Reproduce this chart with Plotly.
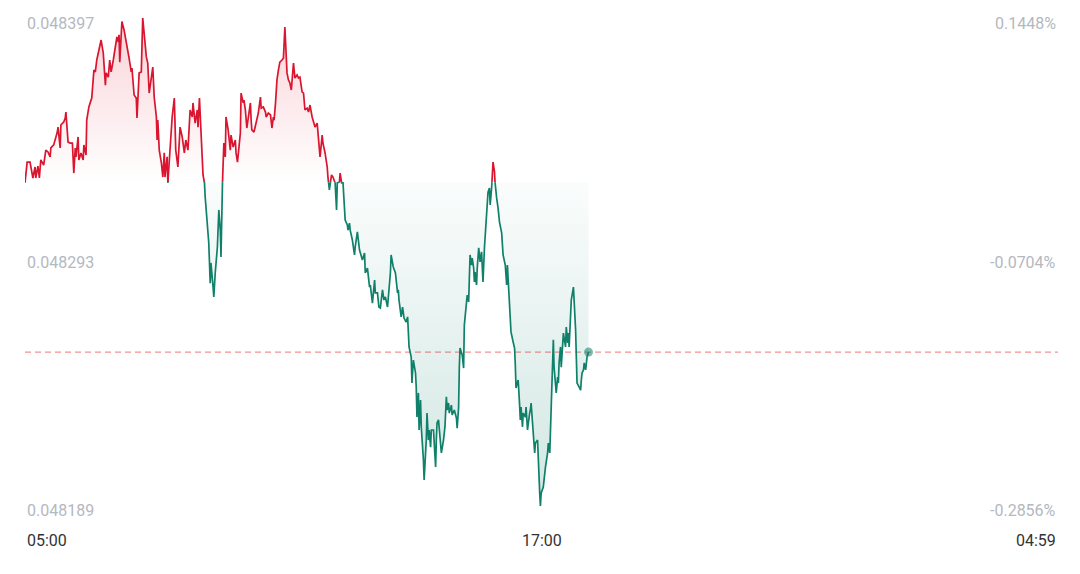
import plotly.graph_objects as go
from datetime import datetime, timedelta

prev_close = 0.048327

# minutes after 05:00 and traded prices
minutes = [0, 3, 7, 11, 14, 15, 18, 20, 22, 26, 29, 32, 35, 36, 40, 42, 45, 46, 49, 50,
           54, 56, 57, 60, 63, 66, 68, 70, 71, 74, 75, 78, 81, 82, 85, 86, 89, 92, 93, 96,
           98, 100, 102, 105, 106, 109, 112, 113, 116, 118, 120, 123, 125, 128, 130, 131, 132, 135, 138, 141,
           142, 145, 148, 149, 152, 155, 156, 159, 162, 164, 169, 171, 173, 176, 178, 180, 183, 184, 185, 187,
           190, 192, 194, 195, 198, 199, 201, 205, 208, 210, 213, 216, 219, 222, 224, 227, 230, 233, 234, 237,
           240, 241, 243, 245, 248, 250, 251, 254, 255, 256, 258, 259, 262, 263, 265, 268, 270, 272, 273, 275,
           276, 277, 279, 280, 283, 286, 287, 290, 293, 294, 296, 298, 300, 301, 304, 305, 307, 309, 312, 314,
           315, 316, 319, 322, 325, 328, 329, 332, 335, 336, 339, 342, 344, 346, 347, 349, 351, 353, 355, 358,
           360, 362, 364, 365, 367, 369, 371, 372, 374, 376, 379, 381, 383, 386, 388, 390, 393, 395, 397, 400,
           401, 404, 407, 408, 411, 414, 415, 418, 421, 422, 424, 427, 429, 432, 434, 435, 438, 439, 441, 443,
           445, 446, 449, 450, 452, 453, 456, 459, 460, 463, 466, 467, 470, 473, 474, 477, 480, 481, 484, 487,
           488, 491, 493, 495, 498, 500, 502, 505, 507, 509, 510, 513, 516, 519, 520, 521, 524, 526, 528, 531,
           533, 534, 535, 538, 539, 541, 544, 545, 546, 548, 549, 551, 552, 555, 556, 559, 560, 562, 563, 565,
           566, 569, 572, 573, 574, 576, 579, 580, 583, 585, 587, 588, 590, 591, 594, 595, 598, 601, 602, 604,
           605, 606, 609, 611, 612, 613, 615, 616, 618, 619, 620, 622, 623, 625, 626, 627, 629, 630, 632, 633,
           634, 636, 638, 640, 643, 644, 645, 647, 648, 650, 651, 652, 654, 655, 657, 659, 661, 664, 665, 666,
           669, 671, 672, 673, 675, 676, 677, 680, 682, 683, 684, 686, 687, 689, 690, 691, 693, 694, 697, 698,
           700, 703, 704, 705, 707, 708, 710, 711, 714, 715, 717, 718, 719, 722, 724, 725, 728, 729, 731, 732,
           733, 735, 736, 737, 739, 740, 742, 743, 744, 746, 747, 749, 750, 753, 754, 756, 757, 758, 760, 761,
           764, 765, 767, 768, 769, 772, 774, 775, 776, 778, 779, 781, 782, 783, 785]

prices = [0.0483267, 0.0483356, 0.0483356, 0.0483288, 0.0483335, 0.0483288, 0.0483339, 0.0483288, 0.0483365, 0.0483343,
          0.0483407, 0.0483399, 0.0483378, 0.0483416, 0.0483429, 0.0483450, 0.0483484, 0.0483505, 0.0483416, 0.0483514,
          0.0483527, 0.0483544, 0.0483569, 0.0483441, 0.0483437, 0.0483437, 0.0483309, 0.0483416, 0.0483378, 0.0483463,
          0.0483365, 0.0483395, 0.0483365, 0.0483429, 0.0483386, 0.0483535, 0.0483591, 0.0483620, 0.0483629, 0.0483748,
          0.0483740, 0.0483791, 0.0483821, 0.0483863, 0.0483876, 0.0483821, 0.0483684, 0.0483736, 0.0483718, 0.0483791,
          0.0483740, 0.0483791, 0.0483825, 0.0483889, 0.0483868, 0.0483898, 0.0483782, 0.0483955, 0.0483919, 0.0483868,
          0.0483863, 0.0483799, 0.0483740, 0.0483757, 0.0483642, 0.0483629, 0.0483544, 0.0483736, 0.0483740, 0.0483970,
          0.0483804, 0.0483778, 0.0483650, 0.0483706, 0.0483761, 0.0483633, 0.0483548, 0.0483450, 0.0483535, 0.0483407,
          0.0483352, 0.0483292, 0.0483395, 0.0483292, 0.0483378, 0.0483267, 0.0483352, 0.0483548, 0.0483629, 0.0483407,
          0.0483335, 0.0483505, 0.0483463, 0.0483395, 0.0483450, 0.0483407, 0.0483578, 0.0483548, 0.0483608, 0.0483522,
          0.0483578, 0.0483505, 0.0483629, 0.0483505, 0.0483301, 0.0483267, 0.0483207, 0.0483096, 0.0483054, 0.0483011,
          0.0482840, 0.0482926, 0.0482823, 0.0482781, 0.0482883, 0.0482994, 0.0483152, 0.0483066, 0.0482951, 0.0483250,
          0.0483420, 0.0483437, 0.0483378, 0.0483548, 0.0483493, 0.0483407, 0.0483471, 0.0483420, 0.0483450, 0.0483395,
          0.0483356, 0.0483416, 0.0483480, 0.0483650, 0.0483608, 0.0483620, 0.0483578, 0.0483501, 0.0483565, 0.0483608,
          0.0483535, 0.0483493, 0.0483484, 0.0483522, 0.0483565, 0.0483633, 0.0483586, 0.0483591, 0.0483569, 0.0483548,
          0.0483565, 0.0483557, 0.0483501, 0.0483548, 0.0483535, 0.0483608, 0.0483706, 0.0483748, 0.0483782, 0.0483791,
          0.0483799, 0.0483932, 0.0483778, 0.0483736, 0.0483706, 0.0483693, 0.0483663, 0.0483706, 0.0483778, 0.0483714,
          0.0483727, 0.0483714, 0.0483718, 0.0483655, 0.0483650, 0.0483578, 0.0483586, 0.0483569, 0.0483599, 0.0483548,
          0.0483535, 0.0483505, 0.0483522, 0.0483484, 0.0483378, 0.0483471, 0.0483437, 0.0483395, 0.0483335, 0.0483292,
          0.0483237, 0.0483301, 0.0483292, 0.0483267, 0.0483152, 0.0483267, 0.0483271, 0.0483309, 0.0483267, 0.0483267,
          0.0483181, 0.0483109, 0.0483088, 0.0483066, 0.0483096, 0.0483066, 0.0483024, 0.0482960, 0.0482994, 0.0483058,
          0.0482981, 0.0482968, 0.0482939, 0.0482968, 0.0482883, 0.0482904, 0.0482823, 0.0482832, 0.0482755, 0.0482853,
          0.0482798, 0.0482798, 0.0482738, 0.0482734, 0.0482811, 0.0482768, 0.0482781, 0.0482738, 0.0482811, 0.0482883,
          0.0482960, 0.0482909, 0.0482883, 0.0482798, 0.0482811, 0.0482768, 0.0482696, 0.0482738, 0.0482691, 0.0482674,
          0.0482696, 0.0482610, 0.0482568, 0.0482525, 0.0482414, 0.0482512, 0.0482457, 0.0482397, 0.0482269, 0.0482372,
          0.0482214, 0.0482342, 0.0482227, 0.0482086, 0.0482001, 0.0482171, 0.0482286, 0.0482171, 0.0482214, 0.0482141,
          0.0482214, 0.0482214, 0.0482056, 0.0482171, 0.0482244, 0.0482257, 0.0482171, 0.0482116, 0.0482171, 0.0482227,
          0.0482355, 0.0482299, 0.0482329, 0.0482286, 0.0482320, 0.0482278, 0.0482299, 0.0482265, 0.0482222, 0.0482308,
          0.0482478, 0.0482563, 0.0482534, 0.0482478, 0.0482661, 0.0482691, 0.0482747, 0.0482789, 0.0482760, 0.0482845,
          0.0482960, 0.0482917, 0.0482947, 0.0482904, 0.0482845, 0.0482887, 0.0482832, 0.0482904, 0.0482990, 0.0482960,
          0.0482930, 0.0482973, 0.0482845, 0.0482990, 0.0483143, 0.0483186, 0.0483228, 0.0483245, 0.0483173, 0.0483245,
          0.0483301, 0.0483356, 0.0483314, 0.0483258, 0.0483203, 0.0483160, 0.0483100, 0.0483054, 0.0482973, 0.0482960,
          0.0482917, 0.0482832, 0.0482917, 0.0482862, 0.0482760, 0.0482661, 0.0482632, 0.0482589, 0.0482563, 0.0482491,
          0.0482393, 0.0482418, 0.0482427, 0.0482320, 0.0482257, 0.0482312, 0.0482227, 0.0482286, 0.0482269, 0.0482312,
          0.0482214, 0.0482286, 0.0482299, 0.0482329, 0.0482214, 0.0482201, 0.0482116, 0.0482158, 0.0482171, 0.0482056,
          0.0481945, 0.0481890, 0.0481945, 0.0481971, 0.0482031, 0.0482056, 0.0482116, 0.0482158, 0.0482116, 0.0482201,
          0.0482299, 0.0482440, 0.0482598, 0.0482482, 0.0482427, 0.0482372, 0.0482440, 0.0482414, 0.0482500, 0.0482568,
          0.0482482, 0.0482598, 0.0482627, 0.0482568, 0.0482653, 0.0482585, 0.0482627, 0.0482568, 0.0482683, 0.0482768,
          0.0482823, 0.0482768, 0.0482640, 0.0482525, 0.0482414, 0.0482397, 0.0482384, 0.0482427, 0.0482457, 0.0482470,
          0.0482500, 0.0482470, 0.0482512, 0.0482525, 0.0482546]

x_tick_minutes = [0, 720, 1439]
x_tick_labels = ["05:00", "17:00", "04:59"]
y_tick_values = [0.048397, 0.048293, 0.048189]
y_tick_labels = ["0.048397", "0.048293", "0.048189"]
pct_labels = ["0.1448%", "-0.0704%", "-0.2856%"]

RED = "#d9152f"
GREEN = "#10806a"
start = datetime(2024, 1, 1, 5, 0)


def t(m):
    return start + timedelta(minutes=m)


# insert crossing points with the previous close so the line can change colour there
xs, ys = [], []
for i, p in enumerate(prices):
    if i > 0:
        p0 = prices[i - 1]
        if (p0 - prev_close) * (p - prev_close) < 0:
            f = (prev_close - p0) / (p - p0)
            xs.append(minutes[i - 1] + f * (minutes[i] - minutes[i - 1]))
            ys.append(prev_close)
    xs.append(minutes[i])
    ys.append(p)
tx = [t(m) for m in xs]

base = [prev_close] * len(tx)
red_area = [max(v, prev_close) for v in ys]
green_area = [min(v, prev_close) for v in ys]
red_line = [v if v >= prev_close else None for v in ys]
green_line = [v if v <= prev_close else None for v in ys]

fig = go.Figure()
fig.add_trace(go.Scatter(x=tx, y=base, mode="lines", line=dict(width=0),
                         hoverinfo="skip", showlegend=False))
fig.add_trace(go.Scatter(x=tx, y=red_area, mode="lines", line=dict(width=0), fill="tonexty",
                         fillgradient=dict(type="vertical",
                                           colorscale=[[0, "rgba(225,30,55,0)"], [1, "rgba(225,30,55,0.2)"]],
                                           start=prev_close, stop=max(prices)),
                         hoverinfo="skip", showlegend=False))
fig.add_trace(go.Scatter(x=tx, y=base, mode="lines", line=dict(width=0),
                         hoverinfo="skip", showlegend=False))
fig.add_trace(go.Scatter(x=tx, y=green_area, mode="lines", line=dict(width=0), fill="tonexty",
                         fillgradient=dict(type="vertical",
                                           colorscale=[[0, "rgba(16,128,106,0.19)"], [1, "rgba(16,128,106,0.02)"]],
                                           start=min(prices), stop=prev_close),
                         hoverinfo="skip", showlegend=False))
fig.add_trace(go.Scatter(x=tx, y=red_line, mode="lines", line=dict(color=RED, width=1.7),
                         connectgaps=False, showlegend=False))
fig.add_trace(go.Scatter(x=tx, y=green_line, mode="lines", line=dict(color=GREEN, width=1.7),
                         connectgaps=False, showlegend=False))
fig.add_trace(go.Scatter(x=[t(minutes[-1])], y=[prices[-1]], mode="markers",
                         marker=dict(size=9, color="rgba(16,128,106,0.55)"), showlegend=False))

fig.add_shape(type="line", xref="paper", x0=0, x1=1, yref="y", y0=prices[-1], y1=prices[-1],
              line=dict(color="rgba(240,110,110,0.75)", width=1.3, dash="6px,4px"), layer="below")

label_font = dict(family="Roboto, Arial, sans-serif", size=16, color="#b4b8bf")
yshifts = [-5, 0, -4]
annotations = []
for val, lab, pct, ys_ in zip(y_tick_values, y_tick_labels, pct_labels, yshifts):
    annotations.append(dict(x=0, xref="paper", y=val, yref="y", text=lab, showarrow=False,
                            xanchor="left", yanchor="middle", yshift=ys_, font=label_font))
    annotations.append(dict(x=1, xref="paper", y=val, yref="y", text=pct, showarrow=False,
                            xanchor="right", yanchor="middle", yshift=ys_, font=label_font))
for m, lab, anchor in zip(x_tick_minutes, x_tick_labels, ["left", "center", "right"]):
    annotations.append(dict(x=t(m), xref="x", y=0, yref="paper", text=lab, showarrow=False,
                            xanchor=anchor, yanchor="middle", yshift=-34,
                            font=dict(family="Roboto, Arial, sans-serif", size=16, color="#333333")))

# the page body adds an 8px offset, so the figure is sized to fit the 1080x574 window
fig.update_layout(
    width=1072, height=566,
    margin=dict(l=17, r=22, t=10, b=68),
    paper_bgcolor="white", plot_bgcolor="white",
    xaxis=dict(range=[t(0), t(1439)], showgrid=False, zeroline=False, showline=False,
               showticklabels=False, ticks=""),
    yaxis=dict(range=[y_tick_values[2], y_tick_values[0]], showgrid=False, zeroline=False,
               showline=False, showticklabels=False, ticks=""),
    annotations=annotations,
    showlegend=False,
)

fig.write_html("out.html")
